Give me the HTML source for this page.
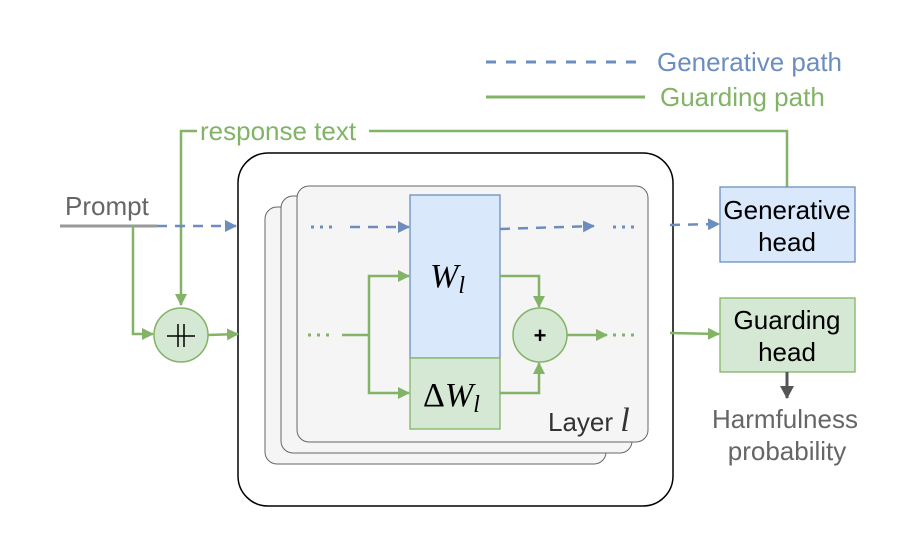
<!DOCTYPE html>
<html><head><meta charset="utf-8"><style>
html,body{margin:0;padding:0;background:#fff;}
svg{display:block;}
.s{font-family:"Liberation Sans",sans-serif;}
.m{font-family:"Liberation Serif",serif;}
</style></head><body>
<svg width="923" height="540" viewBox="0 0 923 540" xmlns="http://www.w3.org/2000/svg">
<defs>
<marker id="ga" markerWidth="12" markerHeight="12" refX="11" refY="6" orient="auto" markerUnits="userSpaceOnUse"><path d="M0,0 L12,6 L0,12 Z" fill="#82b366"/></marker>
<marker id="ba" markerWidth="12" markerHeight="12" refX="11" refY="6" orient="auto" markerUnits="userSpaceOnUse"><path d="M0,0 L12,6 L0,12 Z" fill="#6c8ebf"/></marker>
<marker id="ka" markerWidth="14" markerHeight="14" refX="12" refY="7" orient="auto" markerUnits="userSpaceOnUse"><path d="M0,0 L13,7 L0,14 Z" fill="#555"/></marker>
</defs>
<!-- legend -->
<line x1="486" y1="62" x2="645" y2="62" stroke="#6c8ebf" stroke-width="3" stroke-dasharray="10,10"/>
<text class="s" x="657" y="71" font-size="26" fill="#6c8ebf">Generative path</text>
<line x1="486" y1="97" x2="645" y2="97" stroke="#82b366" stroke-width="3"/>
<text class="s" x="660" y="106" font-size="26" fill="#82b366">Guarding path</text>
<!-- response text path -->
<polyline points="787,187 787,131 181,131 181,305" fill="none" stroke="#82b366" stroke-width="2.5" marker-end="url(#ga)"/>
<rect x="197" y="116" width="172" height="28" fill="#fff"/>
<text class="s" x="200" y="140" font-size="26" fill="#82b366">response text</text>
<!-- outer box -->
<rect x="238" y="153" width="435" height="353" rx="30" fill="#fff" stroke="#000" stroke-width="1.5"/>
<rect x="265" y="207" width="341" height="257" rx="12" fill="#f5f5f5" stroke="#666" stroke-width="1"/>
<rect x="281" y="196" width="351" height="257" rx="12" fill="#f5f5f5" stroke="#666" stroke-width="1"/>
<rect x="297" y="186" width="351" height="256" rx="12" fill="#f5f5f5" stroke="#666" stroke-width="1"/>
<!-- prompt -->
<text class="s" x="65" y="215" font-size="26" fill="#666">Prompt</text>
<line x1="60" y1="226" x2="157" y2="226" stroke="#999" stroke-width="3"/>
<line x1="157" y1="226" x2="236" y2="226" stroke="#6c8ebf" stroke-width="2.5" stroke-dasharray="10,8" marker-end="url(#ba)"/>
<polyline points="133,226 133,334 153,334" fill="none" stroke="#82b366" stroke-width="2.5" marker-end="url(#ga)"/>
<circle cx="181" cy="335" r="27" fill="#d5e8d4" stroke="#82b366" stroke-width="1.5"/>
<line x1="167" y1="336" x2="195" y2="336" stroke="#000" stroke-width="1.5"/>
<line x1="178" y1="324" x2="178" y2="347" stroke="#000" stroke-width="1.5"/>
<line x1="184" y1="324" x2="184" y2="347" stroke="#000" stroke-width="1.5"/>
<line x1="208" y1="335" x2="238" y2="334" stroke="#82b366" stroke-width="2.5" marker-end="url(#ga)"/>
<!-- inner layer -->
<line x1="311" y1="227" x2="333" y2="227" stroke="#6c8ebf" stroke-width="3" stroke-dasharray="3,6"/>
<line x1="350" y1="227" x2="409" y2="227" stroke="#6c8ebf" stroke-width="2.5" stroke-dasharray="10,8" marker-end="url(#ba)"/>
<rect x="410" y="195" width="90" height="163" fill="#dae8fc" stroke="#6c8ebf" stroke-width="1.3"/>
<rect x="410" y="358" width="90" height="71" fill="#d5e8d4" stroke="#82b366" stroke-width="1.3"/>
<text class="m" x="430" y="287" font-size="34" font-style="italic">W<tspan font-size="24" dy="6">l</tspan></text>
<text class="m" x="423" y="406" font-size="34">Δ<tspan font-style="italic">W</tspan><tspan font-size="24" dy="6" font-style="italic">l</tspan></text>
<line x1="500" y1="229" x2="594" y2="226" stroke="#6c8ebf" stroke-width="2.5" stroke-dasharray="10,8" marker-end="url(#ba)"/>
<line x1="613" y1="227" x2="637" y2="227" stroke="#6c8ebf" stroke-width="3" stroke-dasharray="3,6"/>
<line x1="308" y1="335" x2="330" y2="335" stroke="#82b366" stroke-width="3" stroke-dasharray="3,6"/>
<line x1="342" y1="335" x2="369" y2="335" stroke="#82b366" stroke-width="2.5"/>
<polyline points="369,335 369,276 409,276" fill="none" stroke="#82b366" stroke-width="2.5" marker-end="url(#ga)"/>
<polyline points="369,335 369,393 409,393" fill="none" stroke="#82b366" stroke-width="2.5" marker-end="url(#ga)"/>
<polyline points="500,276 539,276 539,307" fill="none" stroke="#82b366" stroke-width="2.5" marker-end="url(#ga)"/>
<polyline points="500,393 539,393 539,363" fill="none" stroke="#82b366" stroke-width="2.5" marker-end="url(#ga)"/>
<circle cx="540" cy="335" r="27" fill="#d5e8d4" stroke="#82b366" stroke-width="1.5"/>
<text class="s" x="540" y="343" font-size="22" font-weight="bold" text-anchor="middle">+</text>
<line x1="567" y1="335" x2="607" y2="335" stroke="#82b366" stroke-width="2.5" marker-end="url(#ga)"/>
<line x1="613" y1="335" x2="637" y2="335" stroke="#82b366" stroke-width="3" stroke-dasharray="3,6"/>
<text class="s" x="548" y="431" font-size="26" fill="#333">Layer <tspan class="m" font-style="italic" font-size="34">l</tspan></text>
<!-- right side -->
<line x1="670" y1="225" x2="719" y2="224" stroke="#6c8ebf" stroke-width="2.5" stroke-dasharray="10,8" marker-end="url(#ba)"/>
<line x1="670" y1="333" x2="719" y2="334" stroke="#82b366" stroke-width="2.5" marker-end="url(#ga)"/>
<rect x="720" y="187" width="135" height="75" fill="#dae8fc" stroke="#6c8ebf" stroke-width="1.3"/>
<text class="s" x="787" y="219" font-size="26" text-anchor="middle">Generative</text>
<text class="s" x="787" y="251" font-size="26" text-anchor="middle">head</text>
<rect x="720" y="298" width="135" height="74" fill="#d5e8d4" stroke="#82b366" stroke-width="1.3"/>
<text class="s" x="787" y="329" font-size="26" text-anchor="middle">Guarding</text>
<text class="s" x="787" y="361" font-size="26" text-anchor="middle">head</text>
<line x1="787" y1="372" x2="787" y2="398" stroke="#555" stroke-width="3" marker-end="url(#ka)"/>
<text class="s" x="785" y="428" font-size="26" fill="#666" text-anchor="middle">Harmfulness</text>
<text class="s" x="787" y="460" font-size="26" fill="#666" text-anchor="middle">probability</text>
</svg>
</body></html>
